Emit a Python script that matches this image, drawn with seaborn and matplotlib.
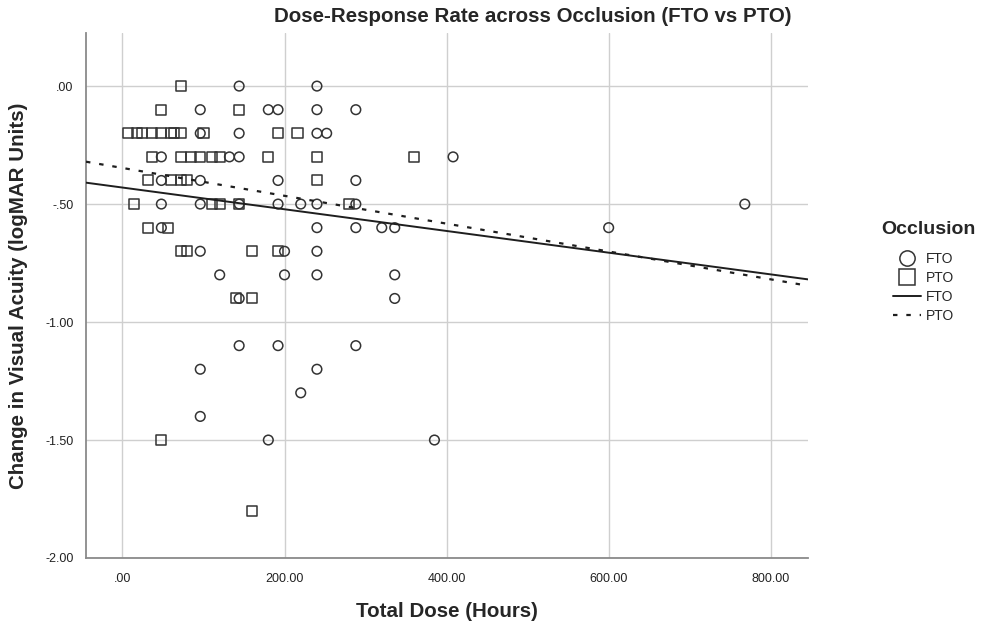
import matplotlib
matplotlib.use("Agg")
import matplotlib.pyplot as plt
import seaborn as sns
import numpy as np
import pandas as pd
from matplotlib.lines import Line2D

# ---- data ----
fto_dose = [144, 240,
            96, 180, 192, 240, 288,
            96, 144, 240, 252,
            48, 132, 144, 408,
            48, 96, 192, 288,
            48, 96, 144, 192, 220, 240, 288, 768,
            48, 240, 288, 320, 336, 600,
            96, 200, 240,
            120, 200, 240, 336,
            144, 336,
            144, 192, 288,
            96, 240,
            220,
            96,
            180, 385]
fto_change = [0.0, 0.0,
              -0.1, -0.1, -0.1, -0.1, -0.1,
              -0.2, -0.2, -0.2, -0.2,
              -0.3, -0.3, -0.3, -0.3,
              -0.4, -0.4, -0.4, -0.4,
              -0.5, -0.5, -0.5, -0.5, -0.5, -0.5, -0.5, -0.5,
              -0.6, -0.6, -0.6, -0.6, -0.6, -0.6,
              -0.7, -0.7, -0.7,
              -0.8, -0.8, -0.8, -0.8,
              -0.9, -0.9,
              -1.1, -1.1, -1.1,
              -1.2, -1.2,
              -1.3,
              -1.4,
              -1.5, -1.5]

pto_dose = [72,
            48, 144,
            7, 18, 24, 36, 48, 60, 64, 72, 100, 192, 216,
            36, 72, 84, 96, 110, 120, 180, 240, 360,
            31, 60, 72, 80, 240,
            14, 110, 120, 144, 280,
            31, 56,
            72, 80, 160, 192,
            140, 160,
            48,
            160]
pto_change = [0.0,
              -0.1, -0.1,
              -0.2, -0.2, -0.2, -0.2, -0.2, -0.2, -0.2, -0.2, -0.2, -0.2, -0.2,
              -0.3, -0.3, -0.3, -0.3, -0.3, -0.3, -0.3, -0.3, -0.3,
              -0.4, -0.4, -0.4, -0.4, -0.4,
              -0.5, -0.5, -0.5, -0.5, -0.5,
              -0.6, -0.6,
              -0.7, -0.7, -0.7, -0.7,
              -0.9, -0.9,
              -1.5,
              -1.8]

# fit lines as drawn in the chart (intercept, slope per hour)
fto_fit = [-0.430, -0.00046]
pto_fit = [-0.347, -0.00059]

x_ticks = [0, 200, 400, 600, 800]
x_tick_labels = [".00", "200.00", "400.00", "600.00", "800.00"]
y_ticks = [0.0, -0.5, -1.0, -1.5, -2.0]
y_tick_labels = [".00", "-.50", "-1.00", "-1.50", "-2.00"]
groups = ["FTO", "PTO"]

# ---- figure ----
sns.set_style("white")
plt.rcParams['font.family'] = ['Liberation Sans', 'DejaVu Sans']

fig = plt.figure(figsize=(9.84, 6.26), dpi=100)
ax = fig.add_axes([86/984, 1 - 558/626, (808-86)/984, (558-33)/626])

ax.set_xlim(-45, 846)
ax.set_ylim(-2.0, 0.225)

edge = "#333333"
line_c = "#1e1e1e"
dotted = (0, (2, 4))
fto = pd.DataFrame({"dose": fto_dose, "change": fto_change})
pto = pd.DataFrame({"dose": pto_dose, "change": pto_change})

sns.scatterplot(data=fto, x="dose", y="change", marker="o", s=48,
                facecolor="none", edgecolor=edge, linewidth=1.1, ax=ax, zorder=3)
sns.scatterplot(data=pto, x="dose", y="change", marker="s", s=52,
                facecolor="none", edgecolor=edge, linewidth=1.1, ax=ax, zorder=3)

xr = np.array(ax.get_xlim())
sns.lineplot(x=xr, y=fto_fit[0] + fto_fit[1] * xr, color=line_c, lw=1.4, ax=ax, zorder=4)
sns.lineplot(x=xr, y=pto_fit[0] + pto_fit[1] * xr, color=line_c, lw=1.6, ls=dotted, ax=ax, zorder=4)

ax.set_xlim(-45, 846)
ax.set_ylim(-2.0, 0.225)

ax.set_xticks(x_ticks)
ax.set_xticklabels(x_tick_labels, fontsize=9)
ax.set_yticks(y_ticks)
ax.set_yticklabels(y_tick_labels, fontsize=9)
ax.tick_params(axis="x", length=0, pad=11, colors="#222222")
ax.tick_params(axis="y", length=0, pad=9, colors="#222222")
ax.grid(True, color="#cfcfcf", lw=1.0, zorder=0)
ax.set_axisbelow(True)
for s in ["top", "right"]:
    ax.spines[s].set_visible(False)
for s in ["left", "bottom"]:
    ax.spines[s].set_color("#8a8a8a")
    ax.spines[s].set_linewidth(1.3)

ax.set_xlabel("Total Dose (Hours)", fontsize=14.8, fontweight="bold", labelpad=12)
ax.set_ylabel("Change in Visual Acuity (logMAR Units)", fontsize=14.8, fontweight="bold", labelpad=12)
fig.text(533/984, 1 - 17/626, "Dose-Response Rate across Occlusion (FTO vs PTO)",
         ha="center", va="center", fontsize=14.8, fontweight="bold")

# legend (title placed separately so the gap below it matches)
fig.text(928/984, 1 - 230/626, "Occlusion", ha="center", va="center",
         fontsize=14, fontweight="bold")
handles = [
    Line2D([], [], marker="o", ls="none", mfc="none", mec=edge, ms=11, mew=1.1),
    Line2D([], [], marker="s", ls="none", mfc="none", mec=edge, ms=11, mew=1.1),
    Line2D([], [], color=line_c, lw=1.4),
    Line2D([], [], color=line_c, lw=1.6, ls=dotted),
]
leg = fig.legend(handles, groups + groups,
                 loc="upper left", bbox_to_anchor=(893/984, 1 - 252/626),
                 frameon=False, fontsize=10,
                 handlelength=2.0, handletextpad=0.35, labelspacing=0.35,
                 borderaxespad=0, borderpad=0)

fig.savefig("out.png", dpi=100)
